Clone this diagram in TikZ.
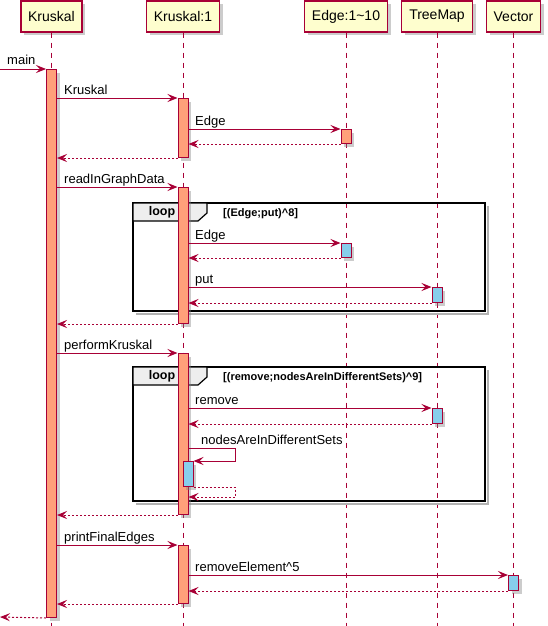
\documentclass[tikz,border=0pt]{standalone}
\usepackage{fontspec}
\setmainfont{Liberation Sans}
\usetikzlibrary{arrows.meta,shadows}
\definecolor{umlred}{RGB}{168,0,54}
\definecolor{umlbox}{RGB}{254,254,206}
\definecolor{umlsalmon}{RGB}{255,160,122}
\definecolor{umlsky}{RGB}{135,206,235}
\definecolor{umltab}{RGB}{238,238,238}

\begin{document}
\begin{tikzpicture}[x=1pt,y=-1pt,
  shade3/.style={drop shadow={shadow xshift=3pt,shadow yshift=-3pt,opacity=0.4}},
  part/.style={draw=umlred,fill=umlbox,line width=1.2pt,minimum height=31pt,inner sep=0pt,
    anchor=north,font=\fontsize{14}{16}\selectfont,shade3},
  life/.style={umlred,line width=0.9pt,dash pattern=on 5pt off 5pt},
  bar/.style={draw=umlred,line width=1pt,minimum width=10pt,inner sep=0pt,anchor=north,shade3},
  call/.style={umlred,line width=1pt,-{Stealth[length=10pt,width=8pt,inset=4pt]}},
  ret/.style={call,dash pattern=on 2pt off 2pt},
  lbl/.style={anchor=base west,inner sep=0pt,font=\fontsize{13}{15}\selectfont},
  frame/.style={draw=black,line width=1.6pt},
  frameshadow/.style={black!30,line width=2.5pt},
  tab/.style={draw=black,fill=umltab,line width=1.2pt},
  looplbl/.style={anchor=base,inner sep=0pt,font=\bfseries\fontsize{12.5}{15}\selectfont},
  guard/.style={anchor=base west,inner sep=0pt,font=\bfseries\fontsize{11}{13}\selectfont}]
  \useasboundingbox (0,0) rectangle (548,626);
  \coordinate (bot) at (0,626);

  \node[part,minimum width=61pt] (K) at (51.5,0.5) {Kruskal};
  \node[part,minimum width=73pt] (K1) at (183,0.5) {Kruskal:1};
  \node[part,minimum width=83pt] (E) at (346,0.5) {Edge:1\textasciitilde10};
  \node[part,minimum width=71pt] (T) at (437,0.5) {TreeMap};
  \node[part,minimum width=54pt] (V) at (513.5,0.5) {Vector};

  \foreach \p in {K,K1,E,T,V}
    \draw[life] (\p.south) -- (\p.south |- bot);

  \draw[frameshadow] (488,206) -- (488,314) -- (136,314);
  \draw[frame] (133,203) rectangle (485,311);
  \draw[tab] (133,203) -- (207,203) -- (207,213) -- (198,221) -- (133,221) -- cycle;

  \draw[frameshadow] (488,370) -- (488,504) -- (136,504);
  \draw[frame] (133,367) rectangle (485,501);
  \draw[tab] (133,367) -- (207,367) -- (207,377) -- (198,385) -- (133,385) -- cycle;

  \node[bar,fill=umlsalmon,minimum height=548pt] (aK) at (51.5,69) {};
  \node[bar,fill=umlsalmon,minimum height=59pt] (aK1) at (183,98) {};
  \node[bar,fill=umlsalmon,minimum height=14pt] (aE1) at (346,129) {};
  \node[bar,fill=umlsalmon,minimum height=136pt] (aK2) at (183,187) {};
  \node[bar,fill=umlsky,minimum height=14pt] (aE2) at (346,243) {};
  \node[bar,fill=umlsky,minimum height=15pt] (aT1) at (437,287) {};
  \node[bar,fill=umlsalmon,minimum height=161pt] (aK3) at (183,353) {};
  \node[bar,fill=umlsky,minimum height=15pt] (aT2) at (437,408) {};
  \node[bar,fill=umlsky,minimum height=25pt] (aS) at (188,461) {};
  \node[bar,fill=umlsalmon,minimum height=58pt] (aK4) at (183,545) {};
  \node[bar,fill=umlsky,minimum height=15pt] (aV) at (513.5,575) {};

  \node[looplbl] (L1) at (162,215.5) {loop};
  \node[guard] (G1) at (223,216) {[(Edge;put)\textasciicircum8]};
  \node[looplbl] (L2) at (162,379.5) {loop};
  \node[guard] (G2) at (223,380) {[(remove;nodesAreInDifferentSets)\textasciicircum9]};

  \coordinate (in) at (0,69);
  \coordinate (out) at (0,617);
  \coordinate (s1) at (235,448);
  \coordinate (s2) at (235,497);

  \draw[call] (in) -- (aK.north west);
  \draw[call] (aK.east |- aK1.north) -- (aK1.north west);
  \draw[call] (aK1.east |- aE1.north) -- (aE1.north west);
  \draw[ret] (aE1.south west) -- (aK1.east |- aE1.south);
  \draw[ret] (aK1.south west) -- (aK.east |- aK1.south);
  \draw[call] (aK.east |- aK2.north) -- (aK2.north west);
  \draw[call] (aK2.east |- aE2.north) -- (aE2.north west);
  \draw[ret] (aE2.south west) -- (aK2.east |- aE2.south);
  \draw[call] (aK2.east |- aT1.north) -- (aT1.north west);
  \draw[ret] (aT1.south west) -- (aK2.east |- aT1.south);
  \draw[ret] (aK2.south west) -- (aK.east |- aK2.south);
  \draw[call] (aK.east |- aK3.north) -- (aK3.north west);
  \draw[call] (aK3.east |- aT2.north) -- (aT2.north west);
  \draw[ret] (aT2.south west) -- (aK3.east |- aT2.south);
  \draw[call] (aK3.east |- s1) -- (s1) -- (s1 |- aS.north) -- (aS.north east);
  \draw[ret] (aS.south east) -- (s2 |- aS.south) -- (s2) -- (aK3.east |- s2);
  \draw[ret] (aK3.south west) -- (aK.east |- aK3.south);
  \draw[call] (aK.east |- aK4.north) -- (aK4.north west);
  \draw[call] (aK4.east |- aV.north) -- (aV.north west);
  \draw[ret] (aV.south west) -- (aK4.east |- aV.south);
  \draw[ret] (aK4.south west) -- (aK.east |- aK4.south);
  \draw[ret] (aK.south west) -- (out);

  \node[lbl] (m1) at (7,65) {main};
  \node[lbl] (m2) at (64,94) {Kruskal};
  \node[lbl] (m3) at (195,125) {Edge};
  \node[lbl] (m4) at (64,183) {readInGraphData};
  \node[lbl] (m5) at (195,239) {Edge};
  \node[lbl] (m6) at (195,283) {put};
  \node[lbl] (m7) at (64,349) {performKruskal};
  \node[lbl] (m8) at (195,404) {remove};
  \node[lbl] (m9) at (201,444) {nodesAreInDifferentSets};
  \node[lbl] (m10) at (64,541) {printFinalEdges};
  \node[lbl] (m11) at (195,571) {removeElement\textasciicircum5};
\end{tikzpicture}
\end{document}
